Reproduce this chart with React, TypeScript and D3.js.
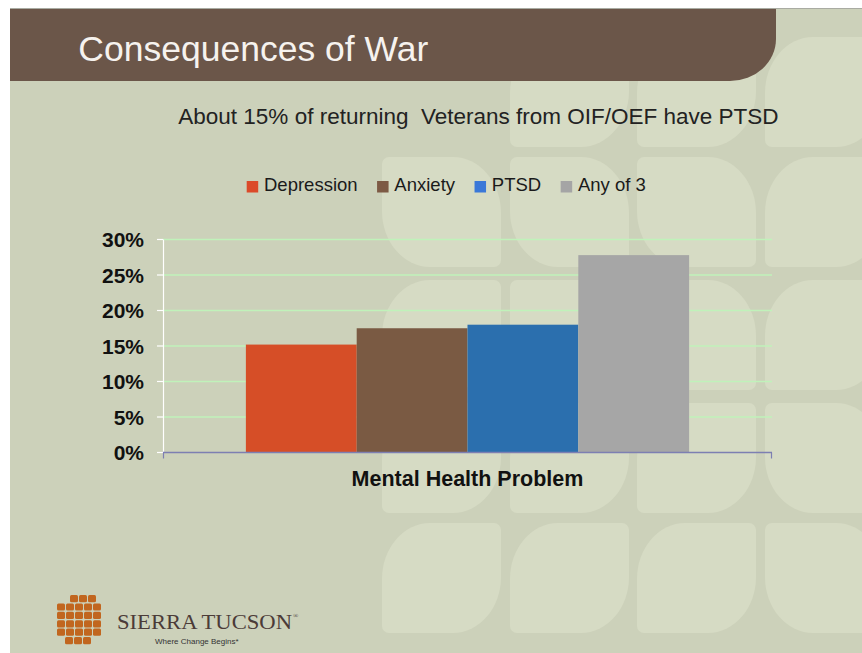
import * as d3 from "d3"

// chart data
const categories = ["Mental Health Problem"]
const seriesNames = ["Depression", "Anxiety", "PTSD", "Any of 3"]
const seriesValues = [15.2, 17.5, 18.0, 27.8]
const yTicks = [0, 5, 10, 15, 20, 25, 30]
const barColors = ["#d64e27", "#7a5a43", "#2b6fae", "#a6a6a6"]
const legendColors = ["#db4a29", "#7d5a44", "#3a78d8", "#a5a5a5"]

const title = "Consequences of War"
const subtitle = "About 15% of returning  Veterans from OIF/OEF have PTSD"

// background leaf tiles: A = big top-left/bottom-right corners, B = mirrored
const tileCols = [382, 510, 637, 765]
const tileRows = [37, 157, 280, 403, 523]
const tileKinds = [
  ["", "A", "A", "A"],
  ["B", "B", "B", "A"],
  ["A", "B", "B", "A"],
  ["A", "A", "A", "B"],
  ["A", "A", "A", "B"],
]

const W = 862
const H = 653
const SANS = "'Liberation Sans', Arial, sans-serif"
const SERIF = "'Liberation Serif', 'Times New Roman', serif"

const measure = (() => {
  const ctx = document.createElement("canvas").getContext("2d")
  return (text, font) => {
    if (!ctx) return text.length * 9
    ctx.font = font
    return ctx.measureText(text).width
  }
})()

function leaf(x, y, w, h, kind) {
  const RX = 48, RY = 56, r = 7
  if (kind === "A") {
    return `M${x},${y + RY}A${RX},${RY} 0 0 1 ${x + RX},${y}H${x + w - r}A${r},${r} 0 0 1 ${x + w},${y + r}` +
      `V${y + h - RY}A${RX},${RY} 0 0 1 ${x + w - RX},${y + h}H${x + r}A${r},${r} 0 0 1 ${x},${y + h - r}Z`
  }
  return `M${x},${y + r}A${r},${r} 0 0 1 ${x + r},${y}H${x + w - RX}A${RX},${RY} 0 0 1 ${x + w},${y + RY}` +
    `V${y + h - r}A${r},${r} 0 0 1 ${x + w - r},${y + h}H${x + RX}A${RX},${RY} 0 0 1 ${x},${y + h - RY}Z`
}

export default function App() {
  const plot = { left: 163, right: 772, top: 239.5, bottom: 452.5 }

  const y = d3.scaleLinear().domain([0, 30]).range([plot.bottom, plot.top])
  const x0 = d3.scaleBand().domain(categories).range([plot.left, plot.right]).paddingOuter(0.187).paddingInner(0)
  const x1 = d3.scaleBand().domain(seriesNames).range([0, x0.bandwidth()]).padding(0)

  // legend layout, measured
  const legendFont = `18.5px ${SANS}`
  let lx = 246.7
  const legendItems = seriesNames.map((name, i) => {
    const item = { name, x: lx, color: legendColors[i] }
    lx += 17.3 + measure(name, legendFont) + 19.5
    return item
  })

  // logo tiles (decorative)
  const logoRows = [[1, 3, 4], [0, 4, 0], [0, 4, 0], [0, 4, 0], [0, 4, 0], [1, 3, -1]]

  return (
    <svg width={W} height={H} style={{ position: "absolute", left: 0, top: 0, display: "block" }}>
      <rect x={0} y={0} width={W} height={H} fill="#ffffff" />
      <rect x={10} y={8} width={W - 10} height={H - 8} fill="#ccd1ba" />
      <line x1={10} x2={W} y1={8.5} y2={8.5} stroke="#a9aba2" strokeWidth={1} />

      {tileKinds.map((row, ri) =>
        row.map((k, ci) =>
          k ? <path key={`t${ri}-${ci}`} d={leaf(tileCols[ci], tileRows[ri], 119, 110, k)} fill="#d6dbc4" /> : null
        )
      )}

      {/* banner */}
      <path d={`M10,9H776V39A46,42 0 0 1 730,81H10Z`} fill="#6b5649" />
      <text x={78.3} y={61} fill="#f6f2ee" fontFamily={SANS} fontSize={35.5}>{title}</text>

      <text x={178.3} y={123.5} fill="#222" fontFamily={SANS} fontSize={22.5} style={{ whiteSpace: "pre" }}>
        {subtitle}
      </text>

      {/* legend */}
      {legendItems.map((d) => (
        <g key={d.name}>
          <rect x={d.x} y={181} width={11.5} height={11.5} fill={d.color} />
          <text x={d.x + 17.3} y={191} fill="#1a1a1a" fontFamily={SANS} fontSize={18.5}>{d.name}</text>
        </g>
      ))}

      {/* grid */}
      {yTicks.filter((t) => t > 0).map((t) => (
        <line key={`g${t}`} x1={plot.left} x2={plot.right} y1={y(t)} y2={y(t)} stroke="#c0f2ba" strokeWidth={1.5} />
      ))}

      {/* bars */}
      {categories.map((c) => (
        <g key={c} transform={`translate(${x0(c)},0)`}>
          {seriesNames.map((s, i) => (
            <rect key={s} x={x1(s)} y={y(seriesValues[i])} width={x1.bandwidth()} height={y(0) - y(seriesValues[i])} fill={barColors[i]} />
          ))}
        </g>
      ))}

      {/* y axis */}
      <line x1={plot.left + 0.5} x2={plot.left + 0.5} y1={plot.top} y2={plot.bottom} stroke="#ffffff" strokeWidth={1.2} />
      {yTicks.map((t) => (
        <g key={`y${t}`}>
          <line x1={plot.left - 6} x2={plot.left} y1={y(t)} y2={y(t)} stroke="#ffffff" strokeWidth={1.2} />
          <text x={144} y={y(t)} dy="0.36em" textAnchor="end" fill="#111" fontFamily={SANS} fontWeight="bold" fontSize={21}>
            {t}%
          </text>
        </g>
      ))}

      {/* x axis */}
      <line x1={plot.left} x2={plot.right} y1={plot.bottom} y2={plot.bottom} stroke="#7d7fb2" strokeWidth={1.5} />
      <line x1={plot.left + 0.5} x2={plot.left + 0.5} y1={plot.bottom} y2={plot.bottom + 6} stroke="#7d7fb2" strokeWidth={1.2} />
      <line x1={plot.right - 0.5} x2={plot.right - 0.5} y1={plot.bottom} y2={plot.bottom + 6} stroke="#7d7fb2" strokeWidth={1.2} />
      {categories.map((c) => (
        <text key={c} x={x0(c) + x0.bandwidth() / 2} y={486} textAnchor="middle" fill="#111" fontFamily={SANS} fontWeight="bold" fontSize={21.5}>
          {c}
        </text>
      ))}

      {/* logo */}
      <g fill="#c1661f">
        {logoRows.map(([c0, c1, shift], ri) =>
          d3.range(c0, c1 + 1).map((ci) => (
            <rect key={`l${ri}-${ci}`} x={57 + ci * 9 + shift} y={595 + ri * 8.4} width={8} height={7.2} rx={1.5} />
          ))
        )}
      </g>
      <text x={117} y={628.5} fill="#4b3b38" fontFamily={SERIF} fontSize={21.5} textLength={175} lengthAdjust="spacingAndGlyphs">
        SIERRA TUCSON
      </text>
      <text x={293} y={618} fill="#4b3b38" fontFamily={SERIF} fontSize={7}>®</text>
      <text x={155} y={644} fill="#333" fontFamily={SANS} fontSize={8}>Where Change Begins*</text>
    </svg>
  )
}
